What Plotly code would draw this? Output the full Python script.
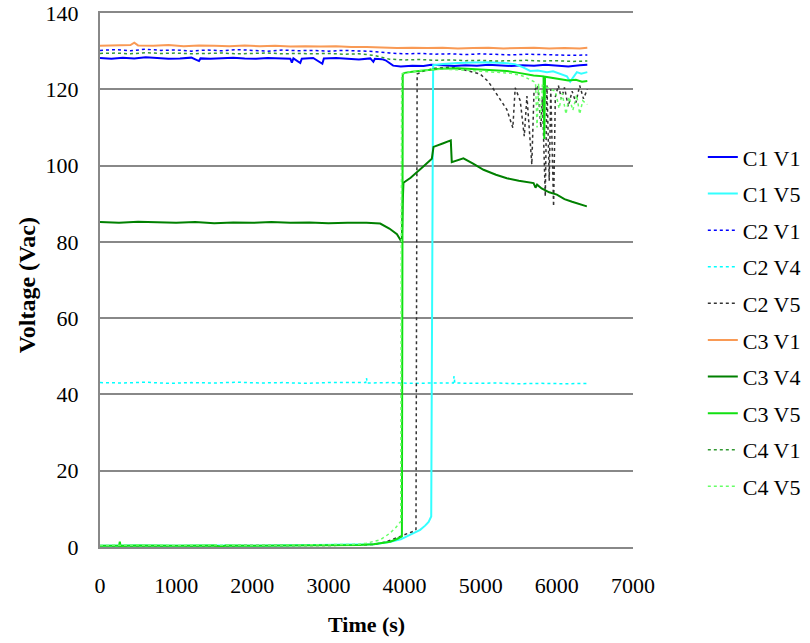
import plotly.graph_objects as go

# ---- data: (time s, voltage Vac) ----
c1v1 = [(0,128.2),(150,128.0),(300,128.3),(450,128.1),(600,128.4),(750,128.2),(900,128.0),(1050,128.1),(1200,128.3),(1300,127.4),(1320,128.1),(1450,128.0),(1600,128.2),(1750,128.3),(1900,128.1),(2050,128.0),(2200,128.2),(2350,128.1),(2500,128.0),(2520,127.0),(2540,128.1),(2630,126.9),(2650,128.0),(2800,128.2),(2920,126.7),(2940,128.1),(3100,128.2),(3250,128.0),(3400,127.8),(3550,128.1),(3590,127.2),(3610,128.0),(3700,127.9),(3750,127.6),(3800,126.8),(3850,126.2),(3950,126.0),(4100,126.2),(4250,126.1),(4350,126.4),(4500,126.3),(4650,126.1),(4800,126.3),(4950,126.2),(5100,126.4),(5250,126.2),(5400,126.1),(5550,126.3),(5700,126.2),(5850,126.4),(6000,126.2),(6150,126.0),(6300,126.3),(6400,126.4)]
c1v5 = [(0,0.3),(500,0.4),(1000,0.3),(1500,0.4),(2000,0.3),(2500,0.4),(3000,0.4),(3400,0.5),(3600,0.7),(3800,1.3),(3950,2.0),(4030,2.8),(4120,3.6),(4205,4.5),(4270,5.6),(4316,6.6),(4350,8.0),(4365,60.0),(4375,126.3),(4500,126.6),(4700,126.9),(4900,127.0),(5100,127.1),(5300,126.9),(5450,126.6),(5550,125.8),(5650,124.8),(5750,124.9),(5870,124.5),(5950,124.7),(6050,124.0),(6132,123.4),(6175,122.0),(6220,123.2),(6263,124.5),(6320,124.1),(6400,124.5)]
c2v1 = [(0,130.2),(200,130.4),(400,130.1),(600,130.5),(800,130.2),(1000,130.3),(1200,130.0),(1400,130.3),(1600,130.1),(1800,130.4),(2000,130.2),(2200,130.0),(2400,130.3),(2600,130.1),(2800,130.2),(3000,130.0),(3200,130.2),(3400,130.1),(3600,129.9),(3800,129.5),(4000,129.3),(4200,129.4),(4400,129.2),(4600,129.3),(4800,129.1),(5000,129.3),(5200,129.2),(5400,129.0),(5600,129.2),(5800,129.1),(6000,129.0),(6200,128.9),(6400,129.0)]
c2v4 = [(0,43.1),(300,43.0),(600,43.2),(900,42.9),(1200,43.1),(1500,43.0),(1800,43.2),(2100,43.0),(2400,43.1),(2700,42.9),(3000,43.1),(3300,43.0),(3490,43.1),(3500,44.3),(3510,43.0),(3800,43.1),(4100,42.9),(4400,43.0),(4640,43.0),(4650,44.8),(4660,43.0),(4900,42.9),(5200,43.0),(5500,42.8),(5800,42.9),(6100,42.8),(6400,42.9)]
c2v5 = [(0,0.3),(500,0.3),(1000,0.4),(1500,0.3),(2000,0.4),(2500,0.3),(3000,0.4),(3400,0.5),(3600,0.7),(3750,1.3),(3899,2.4),(4008,3.4),(4100,4.0),(4150,4.6),(4160,60.0),(4165,124.0),(4250,124.8),(4400,125.5),(4600,125.8),(4800,125.0),(4993,124.0),(5100,122.0),(5169,120.0),(5256,117.3),(5343,114.7),(5422,109.9),(5453,120.4),(5519,117.0),(5572,107.7),(5607,118.2),(5671,100.3),(5700,119.5),(5750,121.0),(5790,110.0),(5810,118.0),(5848,91.9),(5870,121.0),(5900,96.0),(5920,120.0),(5957,89.3),(5980,118.0),(6020,121.0),(6060,117.5),(6100,120.5),(6150,115.5),(6200,119.5),(6250,116.5),(6300,121.0),(6350,117.5),(6400,120.0)]
c3v1 = [(0,131.4),(200,131.5),(400,131.6),(450,132.2),(500,131.5),(700,131.4),(900,131.6),(1100,131.3),(1300,131.5),(1500,131.4),(1700,131.3),(1900,131.5),(2100,131.3),(2300,131.4),(2500,131.2),(2700,131.3),(2900,131.2),(3100,131.3),(3300,131.1),(3500,131.1),(3700,130.9),(3900,130.8),(4100,130.9),(4300,130.8),(4500,130.9),(4700,130.7),(4900,130.8),(5100,130.9),(5300,130.7),(5500,130.8),(5700,130.9),(5900,130.7),(6100,130.8),(6300,130.7),(6400,130.9)]
c3v4 = [(0,85.2),(250,85.0),(500,85.3),(750,85.1),(1000,85.0),(1250,85.2),(1500,84.9),(1750,85.1),(2000,85.0),(2250,85.2),(2500,85.0),(2750,85.1),(3000,84.9),(3250,85.0),(3500,85.0),(3680,84.8),(3800,83.5),(3900,82.0),(3964,79.9),(3975,90.0),(3985,95.5),(4080,96.8),(4160,98.1),(4250,99.8),(4358,101.8),(4380,104.9),(4500,105.8),(4607,106.6),(4620,100.9),(4700,101.5),(4773,101.9),(4900,100.5),(5037,98.9),(5200,97.6),(5343,96.7),(5500,96.0),(5694,95.4),(5720,94.2),(5740,95.0),(5800,94.0),(5850,93.5),(5900,93.0),(6000,92.4),(6100,91.2),(6200,90.5),(6300,89.9),(6394,89.3)]
c3v5 = [(0,0.3),(250,0.3),(260,1.4),(270,0.3),(500,0.4),(1000,0.3),(1500,0.4),(1600,0.1),(1650,0.4),(2000,0.3),(2500,0.4),(3000,0.4),(3400,0.5),(3590,0.7),(3700,1.0),(3811,1.4),(3900,2.1),(3965,2.8),(3976,124.0),(4000,124.3),(4100,124.6),(4300,125.0),(4468,125.4),(4700,125.5),(4900,125.3),(5100,125.0),(5343,124.8),(5500,124.3),(5694,123.6),(5825,123.4),(5835,107.0),(5845,123.3),(5950,122.9),(6050,122.6),(6150,122.3),(6250,122.5),(6330,122.0),(6400,122.2)]
c4v1 = [(0,129.4),(200,129.5),(400,129.3),(600,129.6),(800,129.4),(1000,129.5),(1200,129.3),(1400,129.4),(1600,129.5),(1800,129.3),(2000,129.4),(2200,129.5),(2400,129.3),(2600,129.4),(2800,129.3),(3000,129.4),(3200,129.2),(3400,129.3),(3600,128.9),(3700,128.4),(3800,127.9),(4000,127.7),(4200,127.8),(4400,127.6),(4600,127.7),(4800,127.5),(5000,127.6),(5200,127.4),(5400,127.5),(5600,127.6),(5800,127.4),(6000,127.5),(6200,127.3),(6400,127.4)]
c4v5 = [(0,0.4),(500,0.5),(1000,0.4),(1500,0.5),(2000,0.4),(2500,0.5),(3000,0.5),(3400,0.7),(3500,1.0),(3600,1.5),(3680,1.9),(3750,2.8),(3811,3.7),(3880,5.0),(3950,6.7),(3962,124.0),(4000,124.4),(4200,124.9),(4500,125.3),(4800,125.0),(5000,124.7),(5200,124.5),(5400,124.2),(5550,123.5),(5650,122.5),(5720,121.8),(5740,110.0),(5760,121.5),(5790,112.0),(5810,121.0),(5900,120.2),(5980,119.5),(6030,115.0),(6070,119.0),(6120,113.5),(6160,118.0),(6210,114.5),(6260,118.5),(6300,113.5),(6340,117.0),(6400,116.0)]

series_names = ["C1 V1", "C1 V5", "C2 V1", "C2 V4", "C2 V5", "C3 V1", "C3 V4", "C3 V5", "C4 V1", "C4 V5"]
series_data = [c1v1, c1v5, c2v1, c2v4, c2v5, c3v1, c3v4, c3v5, c4v1, c4v5]
x_ticks = [0, 1000, 2000, 3000, 4000, 5000, 6000, 7000]
y_ticks = [0, 20, 40, 60, 80, 100, 120, 140]

styles = [
    ("#0000FF", "solid", 2),
    ("#33FFFF", "solid", 2),
    ("#0000FF", "dot", 1.5),
    ("#00FFFF", "dot", 1.5),
    ("#333333", "dot", 1.5),
    ("#F99A55", "solid", 2),
    ("#008000", "solid", 2),
    ("#11E011", "solid", 2),
    ("#339933", "dot", 1.5),
    ("#66FF66", "dot", 1.5),
]

FONT = "Liberation Serif, Times New Roman, serif"

fig = go.Figure()
for i, (name, data) in enumerate(zip(series_names, series_data)):
    col, dash, w = styles[i]
    fig.add_trace(go.Scatter(
        x=[p[0] for p in data], y=[p[1] for p in data], mode="lines", name=name,
        line=dict(color=col, dash=dash, width=w), legendgroup=name,
    ))

fig.update_layout(
    width=810, height=643,
    margin=dict(l=100, r=177, t=13, b=96, autoexpand=False),
    paper_bgcolor="white", plot_bgcolor="white",
    font=dict(family=FONT, size=22, color="black"),
    showlegend=True,
    legend=dict(x=1.131, xanchor="left", y=0.422, yanchor="middle",
                font=dict(family=FONT, size=22, color="black"),
                tracegroupgap=5, traceorder="grouped", itemwidth=30,
                bgcolor="rgba(0,0,0,0)"),
    xaxis=dict(range=[0, 7000], tickvals=x_ticks, showgrid=False, zeroline=False,
               showline=True, mirror=True, linecolor="#888888", linewidth=2, ticks="",
               ticklabelstandoff=18, tickfont=dict(family=FONT, size=22)),
    yaxis=dict(range=[0, 140], tickvals=y_ticks, showgrid=True, gridcolor="#888888",
               gridwidth=2, zeroline=False, showline=True, linecolor="#888888",
               linewidth=2, ticks="", ticklabelstandoff=15, ticklabeloverflow="allow",
               tickfont=dict(family=FONT, size=22)),
    annotations=[
        dict(text="<b>Time (s)</b>", xref="paper", yref="paper", x=0.5, y=-0.146,
             xanchor="center", yanchor="middle", showarrow=False,
             font=dict(family=FONT, size=22)),
        dict(text="<b>Voltage (Vac)</b>", xref="paper", yref="paper", x=-0.137, y=0.49,
             xanchor="center", yanchor="middle", showarrow=False, textangle=-90,
             font=dict(family=FONT, size=24)),
    ],
)

fig.write_html("out.html", config={"displayModeBar": False},
               post_script="document.body.style.margin='0';")
